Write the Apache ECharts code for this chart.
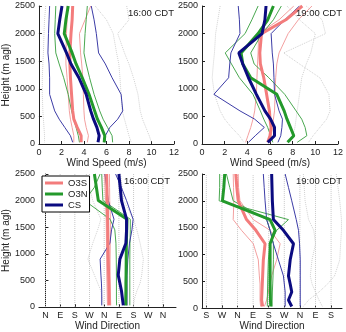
<!DOCTYPE html>
<html>
<head>
<meta charset="utf-8">
<script src="https://cdn.jsdelivr.net/npm/echarts@6/dist/echarts.min.js"></script>
<style>
    html, body { margin: 0; padding: 0; background: #fff; }
    #main { width: 346px; height: 332px; }
</style>
</head>
<body>
<div id="main"></div>
<script>
// heights (m agl) shared by every profile, top -> bottom
var levels = [2500, 2250, 2000, 1650, 1450, 1200, 900, 600, 450, 300, 150, 30];

// wind speed 16:00 (m/s)
var spd16_O3S = [3.0, 2.95, 2.85, 2.75, 2.75, 2.8, 2.9, 3.0, 3.1, 3.4, 3.75, 3.75];
var spd16_O3N = [2.6, 2.4, 2.25, 2.95, 3.3, 3.85, 4.45, 4.95, 5.2, 5.55, 5.85, 5.8];
var spd16_CS = [2.05, 1.85, 1.68, 2.45, 2.85, 3.55, 4.2, 4.6, 4.85, 5.15, 5.35, 5.25];
var spd16_O3S_lo = [2.5, 2.5, 2.45, 2.4, 2.4, 2.5, 2.6, 2.7, 2.8, 2.95, 3.1, 3.1];
var spd16_O3S_hi = [4.6, 4.1, 3.6, 3.7, 3.8, 3.9, 3.95, 4.0, 4.05, 4.2, 4.4, 4.3];
var spd16_O3N_lo = [1.5, 1.45, 1.4, 1.5, 1.8, 2.2, 2.6, 2.9, 3.1, 3.3, 3.5, 3.6];
var spd16_O3N_hi = [4.3, 4.2, 4.1, 4.0, 4.2, 4.5, 4.9, 5.4, 5.7, 6.1, 6.5, 6.55];
var spd16_CS_lo = [0.95, 0.9, 0.85, 0.8, 0.9, 0.95, 0.95, 1.4, 1.8, 2.3, 2.8, 3.0];
var spd16_CS_hi = [4.65, 4.9, 5.1, 5.3, 5.9, 6.5, 7.3, 7.45, 7.0, 6.3, 5.9, 5.85];
var spd16_dotA = [0.6, 0.5, 0.45, 0.4, 0.35, 0.3, 0.3, 0.35, 0.4, 0.45, 0.5, 0.5];
var spd16_dotB = [5.0, 6.0, 6.6, 6.9, 7.1, 7.2, 7.3, 7.4, 7.6, 7.8, 8.0, 8.2];
var spd16_dotC = [7.8, 8.0, 7.0, 7.6, 8.0, 8.4, 8.8, 9.0, 9.2, 9.5, 9.8, 10.0];

// wind speed 19:00 (m/s)
var spd19_O3S = [8.85, 7.4, 5.25, 5.1, 5.15, 5.45, 5.7, 5.95, 6.0, 6.1, 6.0, 5.8];
var spd19_O3N = [6.3, 5.8, 4.95, 3.45, 3.6, 4.3, 6.6, 7.25, 7.5, 7.8, 8.1, 7.55];
var spd19_CS = [5.65, 5.55, 5.3, 3.25, 3.6, 4.1, 4.8, 5.55, 6.05, 6.4, 6.4, 5.8];
var spd19_O3S_lo = [8.1, 6.8, 5.0, 4.95, 4.9, 4.85, 4.8, 4.65, 4.5, 4.3, 4.05, 3.85];
var spd19_O3S_hi = [9.7, 8.5, 7.6, 6.8, 6.6, 6.5, 6.45, 6.4, 6.3, 6.2, 6.1, 6.0];
var spd19_O3N_lo = [4.95, 4.4, 3.8, 2.05, 2.6, 3.3, 4.5, 5.15, 5.45, 5.8, 6.05, 6.25];
var spd19_O3N_hi = [7.0, 6.3, 5.3, 4.3, 4.6, 5.9, 7.3, 8.3, 8.8, 9.1, 9.25, 8.4];
var spd19_CS_lo = [3.2, 3.3, 3.35, 2.55, 2.45, 2.35, 1.05, 3.35, 4.65, 5.5, 4.7, 4.1];
var spd19_CS_hi = [8.6, 7.3, 6.1, 6.2, 6.3, 6.35, 6.4, 6.8, 7.1, 7.05, 6.95, 6.7];
var spd19_dotA = [1.6, 1.4, 1.2, 1.1, 1.0, 0.9, 1.1, 1.6, 2.0, 2.6, 3.3, 3.7];
var spd19_dotB = [7.5, 8.6, 10.0, 9.6, 9.2, 8.8, 8.6, 8.4, 8.3, 8.2, 8.0, 7.8];
var spd19_dotC = [9.2, 10.6, 10.9, 7.2, 8.6, 10.4, 11.2, 11.3, 11.0, 10.4, 9.8, 9.4];

// wind direction 16:00 (deg, unwrapped)
var dir16_O3S = [375, 377, 379, 381, 382, 383, 385, 387, 388, 389, 390, 391];
var dir16_O3N = [300, 312, 324, 500, 498, 496, 495, 494, 493, 493, 492, 492];
var dir16_CS = [450, 458, 466, 497, 497, 493, 456, 446, 456, 466, 472, 477];
var dir16_O3S_lo = [362, 365, 368, 372, 373, 374, 375, 376, 377, 378, 379, 380];
var dir16_O3S_hi = [392, 393, 394, 398, 398, 397, 396, 396, 397, 398, 399, 400];
var dir16_O3N_lo = [335, 300, 240, 396, 425, 432, 434, 435, 435, 435, 435, 436];
var dir16_O3N_hi = [345, 348, 352, 520, 520, 518, 517, 517, 517, 517, 517, 517];
var dir16_CS_lo = [365, 375, 385, 420, 405, 395, 335, 340, 343, 345, 345, 345];
var dir16_CS_hi = [430, 465, 497, 537, 530, 515, 505, 500, 500, 500, 500, 500];
var dir16_dotA = [250, 270, 290, 340, 320, 290, 260, 300, 320, 340, 350, 355];
var dir16_dotB = [460, 470, 480, 540, 560, 580, 600, 590, 580, 560, 545, 540];

// wind direction 19:00 (deg, unwrapped)
var dir19_O3S = [350, 356, 364, 412, 466, 519, 509, 505, 503, 501, 499, 505];
var dir19_O3N = [286, 281, 273, 548, 577, 548, 548, 548, 548, 549, 550, 552];
var dir19_CS = [557, 559, 561, 567, 625, 683, 664, 654, 664, 673, 654, 673];
var dir19_O3S_lo = [335, 337, 339, 335, 383, 451, 480, 486, 490, 490, 490, 493];
var dir19_O3S_hi = [364, 366, 374, 451, 548, 606, 586, 557, 548, 538, 528, 515];
var dir19_O3N_lo = [257, 257, 254, 654, 586, 548, 538, 535, 534, 533, 532, 532];
var dir19_O3N_hi = [296, 315, 335, 528, 548, 567, 567, 565, 563, 561, 560, 559];
var dir19_CS_lo = [509, 514, 519, 528, 548, 567, 596, 625, 630, 635, 635, 635];
var dir19_CS_hi = [635, 654, 673, 699, 712, 718, 722, 722, 722, 722, 722, 722];
var dir19_dotA = [740, 745, 750, 770, 800, 810, 790, 780, 790, 810, 830, 850];
var dir19_dotB = [930, 940, 950, 960, 960, 955, 950, 920, 880, 830, 770, 740];

// tick labels
var dir16Ticks = [0, 90, 180, 270, 360, 450, 540, 630, 720];
var dir19Ticks = [180, 270, 360, 450, 540, 630, 720, 810, 900];
var compass = ['N', 'E', 'S', 'W'];
var legendNames = ['O3S', 'O3N', 'CS'];

var ink = '#222';
var colors = {
    O3S: '#f37c7c', O3S_thin: '#f3a0a0',
    O3N: '#23992b', O3N_thin: '#4aa850',
    CS: '#0b0b80', CS_thin: '#3c3ca6',
    dot: '#d0d0d0'
};

function pairs(xs) {
    return xs.map(function (x, i) { return [x, levels[i]]; });
}

function line(name, xs, g, color, width, type, z) {
    return {
        type: 'line', name: name, xAxisIndex: g, yAxisIndex: g,
        data: pairs(xs), symbol: 'none', silent: true, z: z,
        itemStyle: {color: color},
        lineStyle: {color: color, width: width, type: type}
    };
}

// one panel worth of profiles
function panel(g, d) {
    return [
        line('', d.dotA, g, colors.dot, 1, 'dotted', 1),
        line('', d.dotB, g, colors.dot, 1, 'dotted', 1),
        d.dotC ? line('', d.dotC, g, colors.dot, 1, 'dotted', 1) : null,
        line('', d.O3S_lo, g, colors.O3S_thin, 1, 'solid', 2),
        line('', d.O3S_hi, g, colors.O3S_thin, 1, 'solid', 2),
        line('', d.O3N_lo, g, colors.O3N_thin, 1, 'solid', 2),
        line('', d.O3N_hi, g, colors.O3N_thin, 1, 'solid', 2),
        line('', d.CS_lo, g, colors.CS_thin, 1, 'solid', 2),
        line('', d.CS_hi, g, colors.CS_thin, 1, 'solid', 2),
        line('O3S', d.O3S, g, colors.O3S, 3, 'solid', 3),
        line('O3N', d.O3N, g, colors.O3N, 3, 'solid', 3),
        line('CS', d.CS, g, colors.CS, 3, 'solid', 3)
    ].filter(function (s) { return s; });
}

// dotted vertical grid lines at each compass tick
function dirGrid(g, ticks) {
    return ticks.map(function (t) {
        return {
            type: 'line', xAxisIndex: g, yAxisIndex: g, silent: true, z: 0,
            symbol: 'none', data: [[t, 0], [t, 2500]],
            lineStyle: {color: '#c8c8c8', width: 1, type: 'dotted'}
        };
    });
}

function baseAxis(g) {
    return {
        type: 'value', gridIndex: g,
        axisLine: {show: true, lineStyle: {color: ink}},
        axisTick: {show: true, inside: true, length: 3, lineStyle: {color: ink}},
        axisLabel: {fontSize: 9, color: ink, margin: 4,
            formatter: function (v) { return String(v); }},
        splitLine: {show: false},
        nameLocation: 'middle',
        nameTextStyle: {fontSize: 10, color: ink}
    };
}

function speedAxis(g) {
    var a = baseAxis(g);
    a.min = 0; a.max = 12; a.interval = 2;
    a.name = 'Wind Speed (m/s)';
    a.nameGap = 13;
    return a;
}

function dirAxis(g, min, max, ticks, margin, gap) {
    var a = baseAxis(g);
    a.min = min; a.max = max;
    a.name = 'Wind Direction';
    a.nameGap = gap;
    a.axisTick.customValues = ticks;
    a.axisLabel.customValues = ticks;
    a.axisLabel.margin = margin;
    a.axisLabel.formatter = function (v) {
        return compass[(((v % 360) + 360) % 360) / 90];
    };
    return a;
}

function heightAxis(g, named, gap) {
    var a = baseAxis(g);
    a.min = 0; a.max = 2500; a.interval = 500;
    if (named) {
        a.name = 'Height (m agl)';
        a.nameGap = gap;
    }
    return a;
}

function titleAt(text, left, top) {
    return {text: text, left: left, top: top, padding: 0,
        textStyle: {fontSize: 9.5, fontWeight: 'normal', color: ink}};
}

var series = [].concat(
    panel(0, {O3S: spd16_O3S, O3N: spd16_O3N, CS: spd16_CS,
        O3S_lo: spd16_O3S_lo, O3S_hi: spd16_O3S_hi, O3N_lo: spd16_O3N_lo, O3N_hi: spd16_O3N_hi,
        CS_lo: spd16_CS_lo, CS_hi: spd16_CS_hi, dotA: spd16_dotA, dotB: spd16_dotB, dotC: spd16_dotC}),
    panel(1, {O3S: spd19_O3S, O3N: spd19_O3N, CS: spd19_CS,
        O3S_lo: spd19_O3S_lo, O3S_hi: spd19_O3S_hi, O3N_lo: spd19_O3N_lo, O3N_hi: spd19_O3N_hi,
        CS_lo: spd19_CS_lo, CS_hi: spd19_CS_hi, dotA: spd19_dotA, dotB: spd19_dotB, dotC: spd19_dotC}),
    dirGrid(2, dir16Ticks),
    panel(2, {O3S: dir16_O3S, O3N: dir16_O3N, CS: dir16_CS,
        O3S_lo: dir16_O3S_lo, O3S_hi: dir16_O3S_hi, O3N_lo: dir16_O3N_lo, O3N_hi: dir16_O3N_hi,
        CS_lo: dir16_CS_lo, CS_hi: dir16_CS_hi, dotA: dir16_dotA, dotB: dir16_dotB}),
    dirGrid(3, dir19Ticks),
    panel(3, {O3S: dir19_O3S, O3N: dir19_O3N, CS: dir19_CS,
        O3S_lo: dir19_O3S_lo, O3S_hi: dir19_O3S_hi, O3N_lo: dir19_O3N_lo, O3N_hi: dir19_O3N_hi,
        CS_lo: dir19_CS_lo, CS_hi: dir19_CS_hi, dotA: dir19_dotA, dotB: dir19_dotB})
);

var option = {
    animation: false,
    backgroundColor: '#fff',
    textStyle: {fontFamily: 'Liberation Sans, Arial, sans-serif'},
    title: [
        titleAt('16:00 CDT', 128, 8),
        titleAt('19:00 CDT', 296, 8),
        titleAt('16:00 CDT', 124, 176),
        titleAt('19:00 CDT', 296, 176)
    ],
    legend: {
        data: legendNames, orient: 'vertical', left: 42, top: 176,
        icon: 'rect', itemWidth: 18, itemHeight: 3, itemGap: 1,
        padding: [2, 2, 2, 3], borderColor: '#000', borderWidth: 1,
        backgroundColor: '#fff', selectedMode: false,
        textStyle: {fontSize: 9.5, color: ink}
    },
    grid: [
        {left: 36, top: 6, width: 138, height: 138},
        {left: 202, top: 6, width: 138, height: 138},
        {left: 38.5, top: 174, width: 137.5, height: 134},
        {left: 202, top: 174, width: 140, height: 138}
    ],
    xAxis: [
        speedAxis(0),
        speedAxis(1),
        dirAxis(2, -40, 800, dir16Ticks, 4, 14),
        dirAxis(3, 155, 963, dir19Ticks, 3, 11)
    ],
    yAxis: [
        heightAxis(0, true, 24),
        heightAxis(1, false),
        heightAxis(2, true, 26),
        heightAxis(3, false)
    ],
    series: series
};

var myChart = echarts.init(document.getElementById('main'));
myChart.setOption(option);
</script>
</body>
</html>
